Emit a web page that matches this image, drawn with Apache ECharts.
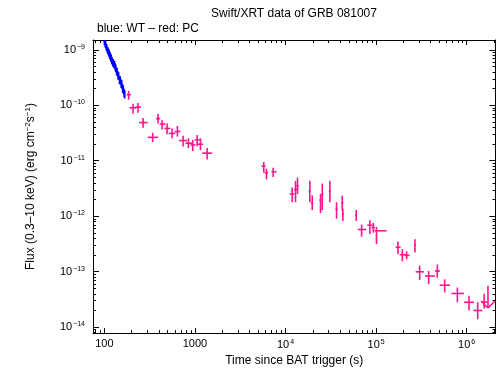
<!DOCTYPE html>
<html>
<head>
<meta charset="utf-8">
<script src="https://cdn.jsdelivr.net/npm/echarts@6/dist/echarts.min.js"></script>
<style>
html, body { margin: 0; padding: 0; background: #fff; }
#main { width: 498px; height: 372px; }
</style>
</head>
<body>
<div id="main"></div>
<script>
// WT 模式（蓝色）
var wtTime = [100, 102, 103.5, 105, 106.5, 108, 110, 111.5, 113, 114.5, 116, 117.5, 119, 120.5, 122, 124, 126, 128, 130, 132, 134, 136.5, 139, 141.5, 144, 147, 150, 153, 156, 159, 162, 165, 168];
var wtFlux = [1.42e-9, 1.30e-9, 1.25e-9, 1.13e-9, 1.10e-9, 1.00e-9, 0.96e-9, 0.90e-9, 0.87e-9, 0.80e-9, 0.79e-9, 0.73e-9, 0.71e-9, 0.65e-9, 0.64e-9, 0.59e-9, 0.59e-9, 0.55e-9, 0.54e-9, 0.49e-9, 0.47e-9, 0.41e-9, 0.40e-9, 0.35e-9, 0.34e-9, 0.29e-9, 0.285e-9, 0.25e-9, 0.24e-9, 0.205e-9, 0.195e-9, 0.17e-9, 0.16e-9];
var wtFluxErr = [0.20e-9, 0.19e-9, 0.18e-9, 0.16e-9, 0.16e-9, 0.14e-9, 0.14e-9, 0.13e-9, 0.13e-9, 0.12e-9, 0.12e-9, 0.11e-9, 0.11e-9, 0.10e-9, 0.10e-9, 0.09e-9, 0.09e-9, 0.085e-9, 0.085e-9, 0.08e-9, 0.075e-9, 0.065e-9, 0.065e-9, 0.058e-9, 0.056e-9, 0.05e-9, 0.048e-9, 0.043e-9, 0.041e-9, 0.036e-9, 0.034e-9, 0.03e-9, 0.028e-9];
var wtTimeErr = 1.5;

// PC 模式（红色）
var pcTime   = [185.5, 207.5, 235.7, 267.7, 341.8, 392, 434, 493, 560, 641, 741, 848, 946, 1058, 1151, 1364, 5757, 6166, 7311, 11860, 12900, 13570, 18560, 19720, 24360, 25440, 30870, 36600, 42330, 42960, 60400, 69180, 85400, 93100, 101000, 174200, 194800, 217300, 268400, 302500, 380200, 474400, 571400, 789000, 1060000, 1323000, 1560000];
var pcTimeLo = [176.4, 190, 220, 241.7, 301, 372.7, 408.3, 460, 513, 598, 669, 785, 892, 995, 1074, 1202, 5430, 5907, 7000, 11160, 12400, 13130, 18000, 19100, 23600, 24700, 30000, 35600, 41200, 41900, 59000, 62950, 79950, 89000, 96200, 164300, 181800, 206500, 262000, 273300, 346000, 446500, 503300, 677600, 933300, 1186000, 1454000];
var pcTimeHi = [197.2, 226, 254.4, 301, 392, 415.8, 472, 536, 609, 692, 820, 931, 1013, 1130, 1232, 1549, 6011, 6441, 7956, 12570, 13400, 14030, 19100, 20300, 25100, 26200, 31700, 37600, 43500, 44000, 61800, 77950, 90780, 97300, 130600, 186500, 211800, 234400, 275000, 337300, 446500, 507000, 654000, 933300, 1205000, 1491000, 1693000];
var pcFlux   = [1.55e-10, 9.0e-11, 9.25e-11, 4.88e-11, 2.64e-11, 5.74e-11, 4.58e-11, 3.82e-11, 3.11e-11, 3.37e-11, 2.31e-11, 2.07e-11, 1.93e-11, 2.37e-11, 1.99e-11, 1.37e-11, 7.99e-12, 6.08e-12, 6.33e-12, 2.51e-12, 3.04e-12, 3.53e-12, 2.80e-12, 1.71e-12, 1.94e-12, 2.48e-12, 2.80e-12, 1.34e-12, 1.75e-12, 1.09e-12, 1.04e-12, 5.76e-13, 6.90e-13, 6.25e-13, 5.47e-13, 2.76e-13, 2.03e-13, 1.97e-13, 3.05e-13, 9.96e-14, 8.36e-14, 1.03e-13, 5.71e-14, 4.06e-14, 2.81e-14, 2.00e-14, 2.83e-14];
var pcFluxLo = [1.26e-10, 7.05e-11, 7.33e-11, 3.93e-11, 2.16e-11, 4.68e-11, 3.66e-11, 2.99e-11, 2.54e-11, 2.72e-11, 1.81e-11, 1.69e-11, 1.49e-11, 1.83e-11, 1.55e-11, 1.05e-11, 6.08e-12, 4.62e-12, 5.10e-12, 1.79e-12, 1.79e-12, 2.51e-12, 1.79e-12, 1.29e-12, 1.14e-12, 1.29e-12, 1.79e-12, 9.03e-13, 1.27e-12, 8.22e-13, 8.22e-13, 4.28e-13, 4.78e-13, 5.04e-13, 3.13e-13, 2.08e-13, 1.54e-13, 1.67e-13, 2.23e-13, 7.10e-14, 5.95e-14, 7.80e-14, 4.23e-14, 2.81e-14, 2.00e-14, 1.39e-14, 2.17e-14];
var pcFluxHi = [1.82e-10, 1.06e-10, 1.10e-10, 5.9e-11, 3.2e-11, 7.04e-11, 5.36e-11, 4.68e-11, 3.82e-11, 4.23e-11, 2.83e-11, 2.54e-11, 2.37e-11, 2.90e-11, 2.54e-11, 1.69e-11, 9.53e-12, 7.24e-12, 7.45e-12, 3.30e-12, 4.33e-12, 4.95e-12, 4.38e-12, 2.38e-12, 2.51e-12, 3.88e-12, 4.38e-12, 1.79e-12, 2.35e-12, 1.36e-12, 1.30e-12, 7.07e-13, 8.46e-13, 7.57e-13, 6.44e-13, 3.49e-13, 2.55e-13, 2.32e-13, 3.83e-13, 1.29e-13, 1.03e-13, 1.35e-13, 7.30e-14, 5.19e-14, 3.69e-14, 2.81e-14, 4.01e-14];

// 上限
var ulTime = [1718000];
var ulFlux = [5.56e-14];

// 坐标轴刻度
var xMajor = [100, 1000, 1e4, 1e5, 1e6];
var yMajor = [1e-14, 1e-13, 1e-12, 1e-11, 1e-10, 1e-9];
var xMin = 75, xMax = 2.08e6;
var yMin = 7.83e-15, yMax = 1.5e-9;

function minorTicks(lo, hi) {
	var out = [];
	for (var e = Math.floor(Math.log10(lo)); e <= Math.ceil(Math.log10(hi)); e++) {
		for (var k = 2; k <= 9; k++) {
			var v = k * Math.pow(10, e);
			if (v > lo && v < hi) out.push(v);
		}
	}
	return out;
}

var font = 'Liberation Sans, Arial, sans-serif';
var supRich = {
	n: { fontSize: 11, fontFamily: font, color: '#000' },
	s: { fontSize: 7, fontFamily: font, color: '#000', padding: [0, 0, 6, 1] }
};

function xLabel(v) {
	var e = Math.round(Math.log10(v));
	if (e <= 3) return '{n|' + Math.round(v) + '}';
	return '{n|10}{s|' + e + '}';
}
function yLabel(v) {
	var e = Math.round(Math.log10(v));
	return '{n|10}{s|−' + Math.abs(e) + '}';
}

function makeAxis(dim, pos, values, len, withLine, withLabel) {
	var ax = {
		type: 'log',
		logBase: 10,
		position: pos,
		min: dim == 'x' ? xMin : yMin,
		max: dim == 'x' ? xMax : yMax,
		splitLine: { show: false },
		axisLine: { show: withLine, onZero: false, lineStyle: { color: '#000', width: 1 } },
		axisTick: { show: true, inside: true, length: len, customValues: values, lineStyle: { color: '#000', width: 1 } },
		axisLabel: { show: false }
	};
	if (withLabel) {
		ax.axisLabel = {
			show: true,
			customValues: values,
			margin: dim == 'x' ? 5 : 8,
			formatter: dim == 'x' ? xLabel : yLabel,
			rich: supRich
		};
	}
	return ax;
}

var xAxes = [
	makeAxis('x', 'bottom', xMajor, 5, true, true),
	makeAxis('x', 'bottom', minorTicks(xMin, xMax), 3, false, false),
	makeAxis('x', 'top', xMajor, 5, true, false),
	makeAxis('x', 'top', minorTicks(xMin, xMax), 3, false, false)
];
xAxes[0].name = 'Time since BAT trigger (s)';
xAxes[0].nameLocation = 'middle';
xAxes[0].nameGap = 18;
xAxes[0].nameTextStyle = { fontSize: 12, fontFamily: font, color: '#000' };

var yAxes = [
	makeAxis('y', 'left', yMajor, 6, true, true),
	makeAxis('y', 'left', minorTicks(yMin, yMax), 3, false, false),
	makeAxis('y', 'right', yMajor, 6, true, false),
	makeAxis('y', 'right', minorTicks(yMin, yMax), 3, false, false)
];
yAxes[0].name = 'Flux (0.3–10 keV) (erg cm{s|−2}s{s|−1})';
yAxes[0].nameLocation = 'middle';
yAxes[0].nameGap = 55;
yAxes[0].nameTextStyle = {
	fontSize: 12, fontFamily: font, color: '#000',
	rich: { s: { fontSize: 8, fontFamily: font, color: '#000', padding: [0, 0, 6, 0] } }
};

// 误差棒十字
function crossItem(color, width) {
	return function (params, api) {
		var c = api.coord([api.value(0), api.value(1)]);
		var l = api.coord([api.value(2), api.value(1)]);
		var r = api.coord([api.value(3), api.value(1)]);
		var b = api.coord([api.value(0), api.value(4)]);
		var t = api.coord([api.value(0), api.value(5)]);
		var st = { stroke: color, lineWidth: width };
		return {
			type: 'group',
			children: [
				{ type: 'line', shape: { x1: l[0], y1: c[1], x2: r[0], y2: c[1] }, style: st },
				{ type: 'line', shape: { x1: c[0], y1: b[1], x2: c[0], y2: t[1] }, style: st }
			]
		};
	};
}

function ulItem(params, api) {
	var top = api.coord([api.value(0), api.value(1)]);
	var tip = api.coord([api.value(0), api.value(1) * 0.4]);
	var st = { stroke: '#ff148c', lineWidth: 1.6 };
	return {
		type: 'group',
		children: [
			{ type: 'line', shape: { x1: top[0], y1: top[1], x2: tip[0], y2: tip[1] }, style: st },
			{ type: 'line', shape: { x1: tip[0] - 7, y1: tip[1] - 7, x2: tip[0], y2: tip[1] }, style: st },
			{ type: 'line', shape: { x1: tip[0] + 7, y1: tip[1] - 7, x2: tip[0], y2: tip[1] }, style: st }
		]
	};
}

var wtData = [];
for (var i = 0; i < wtTime.length; i++) {
	wtData.push([wtTime[i], wtFlux[i], wtTime[i] - wtTimeErr, wtTime[i] + wtTimeErr, wtFlux[i] - wtFluxErr[i], wtFlux[i] + wtFluxErr[i]]);
}
var pcData = [];
for (var i = 0; i < pcTime.length; i++) {
	pcData.push([pcTime[i], pcFlux[i], pcTimeLo[i], pcTimeHi[i], pcFluxLo[i], pcFluxHi[i]]);
}
var ulData = [];
for (var i = 0; i < ulTime.length; i++) {
	ulData.push([ulTime[i], ulFlux[i]]);
}

var myChart = echarts.init(document.getElementById('main'));
var option = {
	backgroundColor: '#fff',
	animation: false,
	title: [{
		text: 'Swift/XRT data of GRB 081007',
		left: 289, top: 3, textAlign: 'center',
		textStyle: { fontSize: 12, fontWeight: 'normal', fontFamily: font, color: '#000' }
	}, {
		text: 'blue: WT – red: PC',
		left: 92, top: 18,
		textStyle: { fontSize: 12, fontWeight: 'normal', fontFamily: font, color: '#000' }
	}],
	grid: { left: 93, right: 2.5, top: 40, bottom: 34, containLabel: false },
	xAxis: xAxes,
	yAxis: yAxes,
	series: [{
		type: 'custom', name: 'WT', xAxisIndex: 0, yAxisIndex: 0,
		clip: true, encode: { x: 0, y: 1 },
		renderItem: crossItem('#0000ff', 1.5), data: wtData
	}, {
		type: 'custom', name: 'PC', xAxisIndex: 0, yAxisIndex: 0,
		clip: true, encode: { x: 0, y: 1 },
		renderItem: crossItem('#ff148c', 1.6), data: pcData
	}, {
		type: 'custom', name: 'UL', xAxisIndex: 0, yAxisIndex: 0,
		clip: true, encode: { x: 0, y: 1 },
		renderItem: ulItem, data: ulData
	}]
};
myChart.setOption(option, true);
</script>
</body>
</html>
